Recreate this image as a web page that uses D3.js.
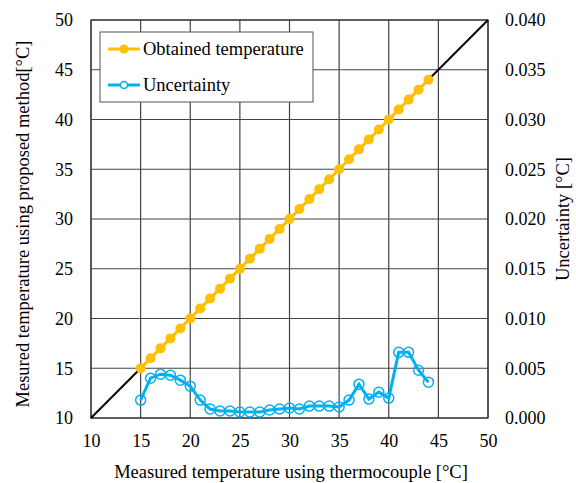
<!DOCTYPE html>
<html>
<head>
<meta charset="utf-8">
<script src="https://cdn.jsdelivr.net/npm/d3@7"></script>
<style>
  body { margin: 0; background: #fff; }
</style>
</head>
<body>
<div id="chart"></div>
<script>
// data
const thermo = [15,16,17,18,19,20,21,22,23,24,25,26,27,28,29,30,31,32,33,34,35,36,37,38,39,40,41,42,43,44];
const obtained = [15,16,17,18,19,20,21,22,23,24,25,26,27,28,29,30,31,32,33,34,35,36,37,38,39,40,41,42,43,44];
const uncertainty = [0.0018,0.0040,0.0044,0.0043,0.0038,0.0032,0.0018,0.0009,0.0007,0.0007,0.0006,0.0006,0.0006,0.0008,
  0.0009,0.0010,0.0009,0.0012,0.0012,0.0012,0.0011,0.0018,0.0034,0.0019,0.0026,0.0020,0.0066,0.0066,0.0048,0.0036];
const xTicks = [10,15,20,25,30,35,40,45,50];
const yTicks = [10,15,20,25,30,35,40,45,50];
const y2Ticks = [0,0.005,0.010,0.015,0.020,0.025,0.030,0.035,0.040];

const W = 576, H = 483;
const pLeft = 91, pRight = 488, pTop = 20, pBottom = 418;
const FONT = "'Liberation Serif', 'Times New Roman', serif";

const svg = d3.select("#chart").append("svg")
  .attr("width", W)
  .attr("height", H)
  .style("font-family", FONT);

const x = d3.scaleLinear().domain([10, 50]).range([pLeft, pRight]);
const y = d3.scaleLinear().domain([10, 50]).range([pBottom, pTop]);
const y2 = d3.scaleLinear().domain([0, 0.04]).range([pBottom, pTop]);

// grid
svg.append("g").selectAll("line").data(xTicks).enter().append("line")
  .attr("x1", d => x(d)).attr("x2", d => x(d))
  .attr("y1", pTop).attr("y2", pBottom)
  .attr("stroke", "#444").attr("stroke-width", 1.2);
svg.append("g").selectAll("line").data(yTicks).enter().append("line")
  .attr("x1", pLeft).attr("x2", pRight)
  .attr("y1", d => y(d)).attr("y2", d => y(d))
  .attr("stroke", "#444").attr("stroke-width", 1.2);
svg.append("rect")
  .attr("x", pLeft).attr("y", pTop)
  .attr("width", pRight - pLeft).attr("height", pBottom - pTop)
  .attr("fill", "none").attr("stroke", "#333").attr("stroke-width", 1.2);

// axes (labels only)
const axB = svg.append("g").attr("transform", `translate(0,${pBottom})`)
  .call(d3.axisBottom(x).tickValues(xTicks).tickSize(0).tickPadding(16));
const axL = svg.append("g").attr("transform", `translate(${pLeft},0)`)
  .call(d3.axisLeft(y).tickValues(yTicks).tickSize(0).tickPadding(18));
const axR = svg.append("g").attr("transform", `translate(${pRight},0)`)
  .call(d3.axisRight(y2).tickValues(y2Ticks).tickSize(0).tickPadding(17).tickFormat(d3.format(".3f")));
[axB, axL, axR].forEach(a => {
  a.attr("font-family", FONT).attr("font-size", 18);
  a.select(".domain").remove();
  a.selectAll("text").attr("fill", "#000");
});

// diagonal 1:1 line
svg.append("line")
  .attr("x1", x(10)).attr("y1", y(10))
  .attr("x2", x(50)).attr("y2", y(50))
  .attr("stroke", "#000").attr("stroke-width", 2);

// obtained temperature
const pts = thermo.map((t, i) => ({t: t, v: obtained[i], u: uncertainty[i]}));
svg.append("path").datum(pts)
  .attr("fill", "none").attr("stroke", "#FFC000").attr("stroke-width", 3)
  .attr("d", d3.line().x(d => x(d.t)).y(d => y(d.v)));
svg.append("g").selectAll("circle").data(pts).enter().append("circle")
  .attr("cx", d => x(d.t)).attr("cy", d => y(d.v)).attr("r", 5)
  .attr("fill", "#FFC000");

// uncertainty
svg.append("path").datum(pts)
  .attr("fill", "none").attr("stroke", "#00B0F0").attr("stroke-width", 3)
  .attr("d", d3.line().x(d => x(d.t)).y(d => y2(d.u)));
svg.append("g").selectAll("circle").data(pts).enter().append("circle")
  .attr("cx", d => x(d.t)).attr("cy", d => y2(d.u)).attr("r", 5)
  .attr("fill", "none").attr("stroke", "#00B0F0").attr("stroke-width", 1.5);

// legend
const lg = svg.append("g").attr("font-size", 18.5);
lg.append("rect")
  .attr("x", 100).attr("y", 32).attr("width", 213).attr("height", 70)
  .attr("fill", "#fff").attr("stroke", "#555").attr("stroke-width", 1);
lg.append("line").attr("x1", 108).attr("x2", 140).attr("y1", 49).attr("y2", 49)
  .attr("stroke", "#FFC000").attr("stroke-width", 3);
lg.append("circle").attr("cx", 124).attr("cy", 49).attr("r", 4.5).attr("fill", "#FFC000");
lg.append("text").attr("x", 143).attr("y", 55).text("Obtained temperature");
lg.append("line").attr("x1", 108).attr("x2", 140).attr("y1", 85).attr("y2", 85)
  .attr("stroke", "#00B0F0").attr("stroke-width", 3);
lg.append("circle").attr("cx", 124).attr("cy", 85).attr("r", 3.5)
  .attr("fill", "#fff").attr("stroke", "#00B0F0").attr("stroke-width", 1.5);
lg.append("text").attr("x", 143).attr("y", 91).text("Uncertainty");

// axis titles
const titles = svg.append("g").attr("font-size", 18.5).attr("text-anchor", "middle");
titles.append("text")
  .attr("x", 291).attr("y", 478)
  .text("Measured temperature using thermocouple [°C]");
titles.append("text")
  .attr("transform", `translate(29,224) rotate(-90)`)
  .text("Mesured temperature using proposed method[°C]");
titles.append("text")
  .attr("transform", `translate(569,219) rotate(-90)`)
  .text("Uncertainty [°C]");
</script>
</body>
</html>
